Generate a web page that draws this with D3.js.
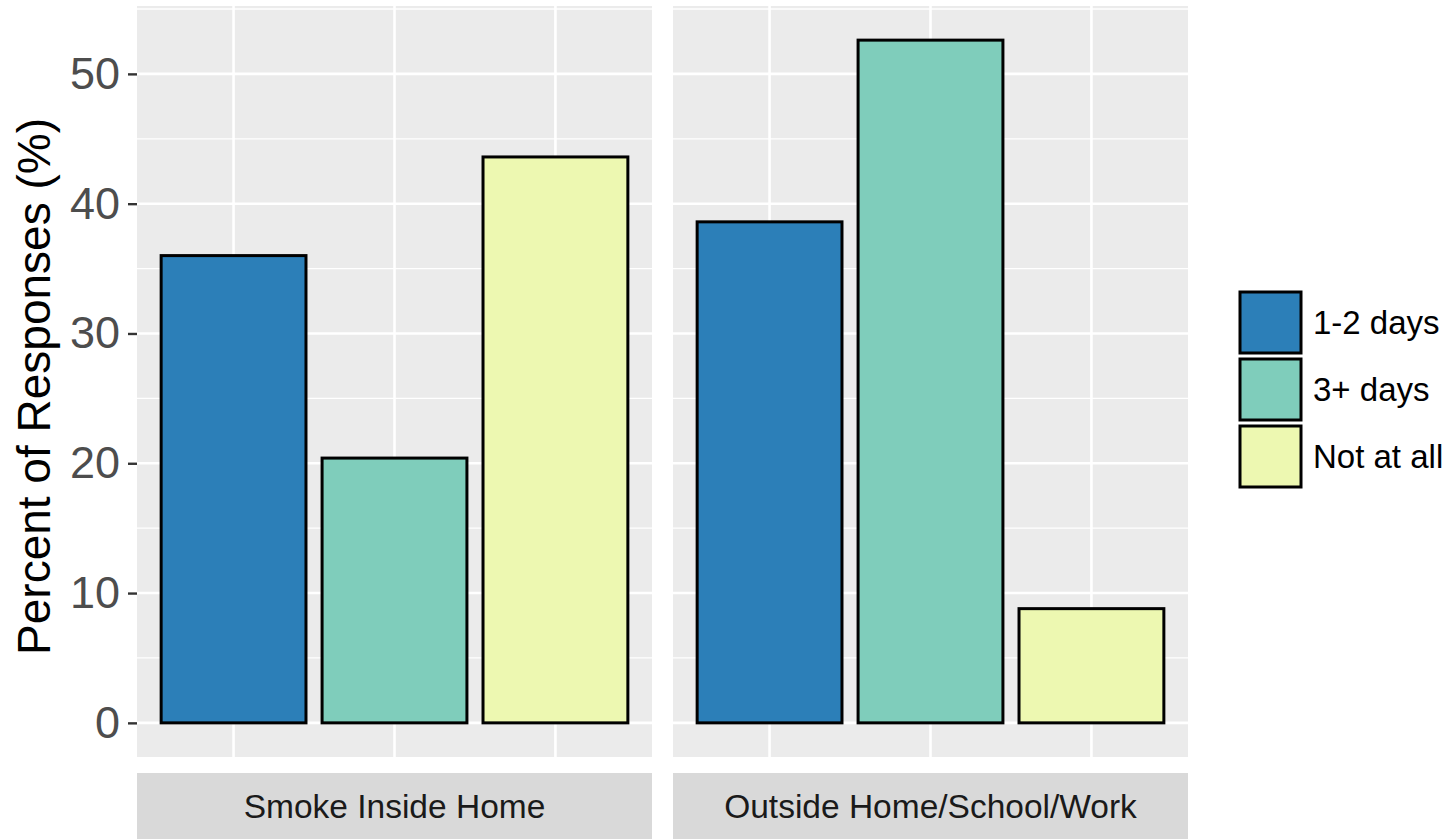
<!DOCTYPE html>
<html>
<head>
<meta charset="utf-8">
<script src="https://cdn.jsdelivr.net/npm/d3@7"></script>
<style>
  html, body { margin: 0; padding: 0; background: #fff; }
  svg { display: block; font-family: Arial, "Liberation Sans", Helvetica, sans-serif; }
</style>
</head>
<body>
<svg id="chart" width="1453" height="839"></svg>
<script>
// ---- data ----
const facets = ["Smoke Inside Home", "Outside Home/School/Work"];
const categories = ["1-2 days", "3+ days", "Not at all"];
const smokeInsideHome = [36.0, 20.4, 43.6];
const outsideHomeSchoolWork = [38.6, 52.6, 8.8];
const seriesByFacet = [smokeInsideHome, outsideHomeSchoolWork];
const colors = ["#2C7FB8", "#7FCDBB", "#EDF8B1"];
const yTicks = [0, 10, 20, 30, 40, 50];
const yMinor = [5, 15, 25, 35, 45, 55];
const yTitle = "Percent of Responses (%)";

// ---- layout ----
const W = 1453, H = 839;
const panelTop = 6, panelBottom = 757;
const panelLefts = [137, 673];
const panelWidth = 515;
const stripTop = 773, stripBottom = 839;

const svg = d3.select("#chart");
svg.append("rect").attr("width", W).attr("height", H).attr("fill", "#fff");

const allVals = seriesByFacet.flat();
const ymax = d3.max(allVals);
const pad = ymax * 0.05;
const y = d3.scaleLinear().domain([-pad, ymax + pad]).range([panelBottom, panelTop]);

facets.forEach((f, fi) => {
  const x0 = panelLefts[fi];
  const x = d3.scaleBand().domain(categories).range([x0, x0 + panelWidth])
    .paddingInner(0.1).paddingOuter(0.15);
  const g = svg.append("g");
  // panel background
  g.append("rect").attr("x", x0).attr("y", panelTop).attr("width", panelWidth)
    .attr("height", panelBottom - panelTop).attr("fill", "#EBEBEB");
  // minor gridlines
  g.selectAll(".minor").data(yMinor.filter(v => y(v) > panelTop)).join("line")
    .attr("x1", x0).attr("x2", x0 + panelWidth)
    .attr("y1", d => y(d)).attr("y2", d => y(d))
    .attr("stroke", "#fff").attr("stroke-width", 1.3);
  // major gridlines
  g.selectAll(".major").data(yTicks).join("line")
    .attr("x1", x0).attr("x2", x0 + panelWidth)
    .attr("y1", d => y(d)).attr("y2", d => y(d))
    .attr("stroke", "#fff").attr("stroke-width", 2.6);
  g.selectAll(".vmajor").data(categories).join("line")
    .attr("x1", d => x(d) + x.bandwidth() / 2).attr("x2", d => x(d) + x.bandwidth() / 2)
    .attr("y1", panelTop).attr("y2", panelBottom)
    .attr("stroke", "#fff").attr("stroke-width", 2.6);
  // bars
  g.selectAll(".bar").data(categories).join("rect")
    .attr("x", d => x(d)).attr("width", x.bandwidth())
    .attr("y", (d, i) => y(seriesByFacet[fi][i]))
    .attr("height", (d, i) => y(0) - y(seriesByFacet[fi][i]))
    .attr("fill", (d, i) => colors[i])
    .attr("stroke", "#000").attr("stroke-width", 3);
  // strip
  g.append("rect").attr("x", x0).attr("y", stripTop).attr("width", panelWidth)
    .attr("height", stripBottom - stripTop).attr("fill", "#D9D9D9");
  g.append("text").attr("x", x0 + panelWidth / 2).attr("y", (stripTop + stripBottom) / 2)
    .attr("text-anchor", "middle").attr("dominant-baseline", "central")
    .attr("font-size", 33.5).attr("fill", "#1A1A1A").text(f);
});

// y axis
const yAxis = d3.axisLeft(y).tickValues(yTicks).tickSize(9).tickPadding(8);
const ag = svg.append("g").attr("transform", `translate(${panelLefts[0]},0)`).call(yAxis);
ag.select(".domain").remove();
ag.selectAll(".tick line").attr("stroke", "#333").attr("stroke-width", 2.4);
ag.selectAll(".tick text").attr("font-size", 45).attr("fill", "#4D4D4D")
  .attr("font-family", 'Arial, "Liberation Sans", sans-serif');

// y title
svg.append("text")
  .attr("transform", `translate(50,${(panelTop + panelBottom) / 2 + 5}) rotate(-90)`)
  .attr("text-anchor", "middle").attr("font-size", 46).attr("fill", "#000")
  .text(yTitle);

// legend
const lg = svg.append("g");
const keyX = 1240, keyY = 292, keySize = 61, keyStep = 67;
categories.forEach((c, i) => {
  lg.append("rect").attr("x", keyX).attr("y", keyY + i * keyStep)
    .attr("width", keySize).attr("height", keySize)
    .attr("fill", colors[i]).attr("stroke", "#000").attr("stroke-width", 3);
  lg.append("text").attr("x", keyX + keySize + 12).attr("y", keyY + i * keyStep + keySize / 2)
    .attr("dominant-baseline", "central").attr("font-size", 33).attr("fill", "#000")
    .text(c);
});
</script>
</body>
</html>
